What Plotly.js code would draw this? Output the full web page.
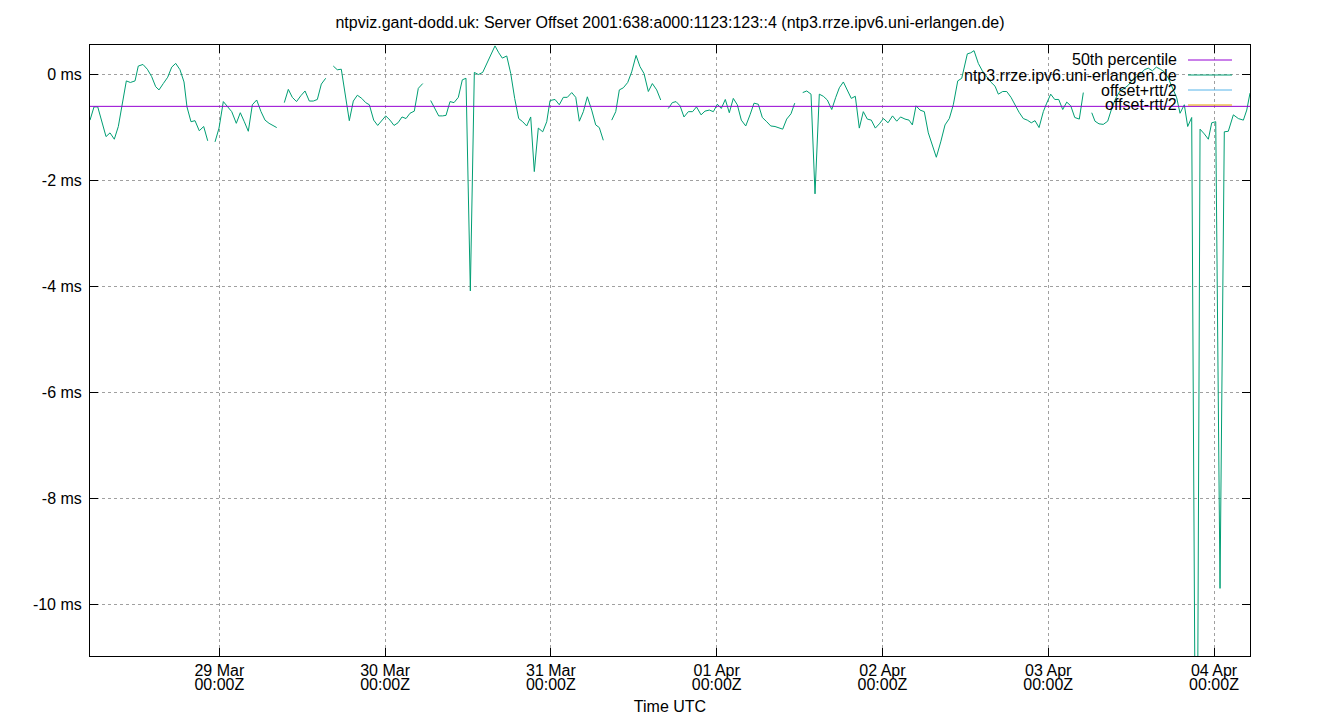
<!DOCTYPE html>
<html>
<head>
<meta charset="utf-8">
<script src="https://cdn.plot.ly/plotly-3.0.1.min.js"></script>
<style>
  html, body { margin: 0; padding: 0; background: #fff; }
  #chart { width: 1340px; height: 720px; }
</style>
</head>
<body>
<div id="chart"></div>
<script>
// ---- data (hours relative to 29 Mar 00:00Z; null = gap in the series) ----
const baseDateUTC = Date.UTC(2025, 2, 29, 0, 0, 0);

const offsetHours = [
  -18.72,-18.14,-17.60,-17.02,-16.40,-15.82,-15.20,-14.62,-14.04,-13.46,-12.88,-12.20,-11.73,-11.05,-10.42,-9.79,-9.21,-8.73,-8.11,-7.47,-6.89,-6.31,-5.69,-5.11,-4.68,-4.10,-3.52,-2.90,-2.26,-1.68,
  null,
  -0.62,-0.04,0.58,1.22,1.80,2.46,3.04,3.62,4.20,4.78,5.41,6.04,6.62,7.20,7.82,8.31,
  null,
  9.41,9.99,10.57,11.18,11.80,12.41,13.03,13.61,14.19,14.77,15.40,
  null,
  16.50,17.08,17.66,18.24,18.82,19.40,19.98,20.62,21.19,21.72,22.35,22.93,23.51,24.09,24.71,25.29,25.87,26.45,27.03,27.61,28.23,28.81,29.45,
  null,
  30.60,31.18,31.76,32.31,32.82,33.40,33.98,34.60,35.18,35.71,36.34,36.92,37.50,38.13,38.71,39.33,39.91,40.46,40.97,41.61,42.19,42.76,43.34,43.92,44.50,45.08,45.60,46.18,46.82,47.40,47.88,48.60,49.22,49.80,50.38,51.02,51.60,52.12,52.70,53.28,53.91,54.49,55.01,55.59,
  null,
  56.81,57.39,57.91,58.49,59.12,59.70,60.33,60.90,61.48,62.11,62.69,63.32,63.90,
  null,
  65.00,65.58,66.12,66.70,67.27,67.90,68.51,69.08,69.74,70.31,70.94,71.52,72.10,72.67,73.25,73.83,74.41,74.99,75.57,76.21,76.83,77.41,78.03,78.61,79.25,79.83,80.45,81.03,81.56,82.14,82.76,83.30,
  null,
  84.46,85.04,85.66,86.24,86.86,87.44,88.02,88.66,89.24,89.76,90.34,90.92,91.49,92.07,92.65,93.23,93.81,94.39,94.97,95.55,96.15,96.81,97.46,98.07,98.62,99.27,99.85,100.33,100.86,101.44,102.06,102.64,103.22,103.80,104.44,105.06,105.68,106.26,106.90,107.48,108.29,108.78,109.26,109.88,110.46,111.10,111.68,112.30,112.78,113.41,113.99,114.61,115.19,115.77,116.39,116.97,117.55,118.09,118.67,119.29,119.78,120.36,120.94,121.52,122.10,122.68,123.26,123.84,124.50,125.08,
  null,
  126.30,126.77,127.35,127.97,128.61,129.19,129.77,130.39,131.02,131.60,132.18,132.76,133.33,133.91,134.49,135.07,135.65,136.23,136.81,137.39,137.97,138.60,139.08,139.70,140.19,140.77,141.47,141.98,142.60,143.18,143.67,144.25,144.87,145.49,146.07,146.80,147.52,148.25,148.74,149.21
];

const offsetMs = [
  -0.87,-0.62,-0.62,-0.87,-1.18,-1.11,-1.23,-0.99,-0.55,-0.13,-0.16,-0.13,0.15,0.18,0.09,-0.05,-0.24,-0.30,-0.18,-0.06,0.13,0.20,0.08,-0.15,-0.62,-0.90,-0.88,-1.07,-0.99,-1.26,
  null,
  -1.28,-1.02,-0.52,-0.62,-0.71,-0.93,-0.73,-0.90,-1.08,-0.58,-0.49,-0.71,-0.87,-0.93,-0.98,-1.01,
  null,
  -0.54,-0.29,-0.44,-0.52,-0.41,-0.32,-0.51,-0.51,-0.48,-0.19,-0.08,
  null,
  0.15,0.08,0.09,-0.40,-0.88,-0.51,-0.40,-0.46,-0.54,-0.58,-0.87,-0.97,-0.89,-0.79,-0.87,-0.97,-0.92,-0.81,-0.84,-0.74,-0.70,-0.27,-0.18,
  null,
  -0.50,-0.65,-0.79,-0.79,-0.78,-0.52,-0.54,-0.44,-0.11,-0.08,-4.09,0.03,-0.01,0.03,0.20,0.37,0.53,0.40,0.30,0.34,0.01,-0.46,-0.84,-0.90,-0.98,-0.81,-1.84,-1.02,-1.09,-0.90,-0.50,-0.48,-0.58,-0.44,-0.44,-0.35,-0.44,-0.89,-0.71,-0.43,-0.68,-0.96,-1.01,-1.25,
  null,
  -0.87,-0.71,-0.30,-0.26,-0.16,0.04,0.35,0.14,0.01,-0.33,-0.18,-0.30,-0.49,
  null,
  -0.65,-0.54,-0.52,-0.60,-0.81,-0.71,-0.71,-0.62,-0.77,-0.70,-0.68,-0.71,-0.57,-0.65,-0.48,-0.73,-0.46,-0.58,-0.87,-0.98,-0.77,-0.55,-0.57,-0.82,-0.90,-0.98,-0.99,-1.01,-1.04,-0.85,-0.75,-0.55,
  null,
  -0.35,-0.32,-0.38,-2.26,-0.38,-0.42,-0.49,-0.67,-0.44,-0.26,-0.15,-0.30,-0.46,-0.42,-1.02,-0.71,-0.85,-0.87,-1.02,-0.94,-0.84,-0.92,-0.79,-0.89,-0.81,-0.85,-0.87,-0.96,-0.60,-0.68,-0.71,-1.11,-1.32,-1.57,-1.28,-0.96,-0.84,-0.58,-0.13,-0.08,0.38,0.40,0.44,0.20,0.06,-0.05,-0.15,-0.23,-0.38,-0.33,-0.33,-0.44,-0.58,-0.72,-0.84,-0.87,-0.92,-0.88,-1.01,-0.71,-0.55,-0.38,-0.48,-0.48,-0.67,-0.53,-0.60,-0.82,-0.85,-0.35,
  null,
  -0.73,-0.89,-0.94,-0.95,-0.89,-0.65,-0.46,-0.32,-0.27,-0.21,-0.11,-0.06,0.00,0.08,0.11,0.06,0.13,0.09,0.04,-0.08,-0.25,-0.45,-0.74,-0.58,-0.99,-0.82,-17.0,-1.04,-1.13,-1.23,-0.92,-0.90,-9.70,-1.09,-1.08,-0.77,-0.84,-0.87,-0.68,-0.36
];

const medianMs = -0.61;          // 50th percentile
const offsetPlusRtt = [];         // offset+rtt/2 (outside the visible range)
const offsetMinusRtt = [];        // offset-rtt/2 (outside the visible range)

const yTickVals = [0, -2, -4, -6, -8, -10];
const yTickText = ['0 ms', '-2 ms', '-4 ms', '-6 ms', '-8 ms', '-10 ms'];

const seriesNames = ['50th percentile', 'ntp3.rrze.ipv6.uni-erlangen.de', 'offset+rtt/2', 'offset-rtt/2'];
const seriesColors = ['#9400d3', '#009e73', '#56b4e9', '#e69f00'];

const titleText = 'ntpviz.gant-dodd.uk: Server Offset 2001:638:a000:1123:123::4 (ntp3.rrze.ipv6.uni-erlangen.de)';

// ---- build ----
const H = 3600 * 1000;
const toTime = h => (h === null ? null : baseDateUTC + h * H);
const xRange = [toTime(-18.72), toTime(149.21)];
const yRange = [-10.975, 0.547];

const FONT = 'Liberation Sans, Arial, Helvetica, sans-serif';

const traces = [
  {
    name: seriesNames[1], type: 'scatter', mode: 'lines',
    x: offsetHours.map(toTime), y: offsetMs,
    connectgaps: false,
    line: { color: seriesColors[1], width: 1 },
    showlegend: false, hoverinfo: 'skip'
  },
  {
    name: seriesNames[2], type: 'scatter', mode: 'lines',
    x: offsetPlusRtt.map(d => toTime(d[0])), y: offsetPlusRtt.map(d => d[1]),
    line: { color: seriesColors[2], width: 1 }, showlegend: false, xaxis: 'x2'
  },
  {
    name: seriesNames[3], type: 'scatter', mode: 'lines',
    x: offsetMinusRtt.map(d => toTime(d[0])), y: offsetMinusRtt.map(d => d[1]),
    line: { color: seriesColors[3], width: 1 }, showlegend: false, xaxis: 'x2'
  },
  {
    name: seriesNames[0], type: 'scatter', mode: 'lines',
    x: xRange, y: [medianMs, medianMs],
    line: { color: seriesColors[0], width: 1 },
    showlegend: false, hoverinfo: 'skip'
  }
];

// custom gnuplot-style key (text right-aligned, sample line on the right)
const keyTextX = (1179 - 90) / 1160;
const keySample = [(1188 - 90) / 1160, (1232 - 90) / 1160];
const keyRowsPx = [60, 75, 90, 105];
const pyPaper = px => (656 - px) / 611;

const annotations = seriesNames.map((n, i) => ({
  xref: 'paper', yref: 'paper', x: keyTextX, y: pyPaper(keyRowsPx[i]),
  xanchor: 'right', yanchor: 'middle', text: n, showarrow: false,
  font: { family: FONT, size: 16, color: '#000' }
}));

const shapes = [
  { type: 'rect', layer: 'between', xref: 'paper', yref: 'paper',
    x0: (908 - 90) / 1160, x1: 1, y0: pyPaper(113), y1: 1,
    fillcolor: '#ffffff', line: { width: 0 } }
].concat(seriesNames.map((n, i) => ({
  type: 'line', xref: 'paper', yref: 'paper',
  x0: keySample[0], x1: keySample[1], y0: pyPaper(keyRowsPx[i]), y1: pyPaper(keyRowsPx[i]),
  line: { color: seriesColors[i], width: 1 }
})));

const commonX = {
  type: 'date', range: xRange,
  tick0: baseDateUTC, dtick: 86400000
};

const layout = {
  width: 1340, height: 720,
  margin: { l: 90, r: 90, t: 45, b: 64, pad: 0 },
  paper_bgcolor: '#fff', plot_bgcolor: '#fff',
  font: { family: FONT, size: 16, color: '#000' },
  showlegend: false,
  title: {
    text: titleText, font: { family: FONT, size: 16, color: '#000' },
    x: 0.5, xanchor: 'center', xref: 'paper',
    y: 1 - 22 / 720, yanchor: 'middle', yref: 'container'
  },
  xaxis: Object.assign({}, commonX, {
    tickformat: '%d %b',
    ticks: 'inside', ticklen: 8, tickwidth: 1, tickcolor: '#000',
    showline: true, linecolor: '#000', linewidth: 1, mirror: 'ticks',
    showgrid: true, gridcolor: '#a0a0a0', griddash: 'dot', gridwidth: 1,
    zeroline: false,
    ticklabelstandoff: 0,
    tickfont: { family: FONT, size: 16, color: '#000' },
    title: { text: 'Time UTC', font: { family: FONT, size: 16, color: '#000' }, standoff: 22 }
  }),
  xaxis2: Object.assign({}, commonX, {
    overlaying: 'x', anchor: 'y', side: 'bottom',
    tickformat: '%H:%MZ',
    ticks: '', showline: false, showgrid: false, zeroline: false,
    ticklabelstandoff: 17,
    tickfont: { family: FONT, size: 16, color: '#000' }
  }),
  yaxis: {
    range: yRange, tickvals: yTickVals, ticktext: yTickText,
    ticks: 'inside', ticklen: 8, tickwidth: 1, tickcolor: '#000',
    showline: true, linecolor: '#000', linewidth: 1, mirror: 'ticks',
    showgrid: true, gridcolor: '#a0a0a0', griddash: 'dot', gridwidth: 1,
    zeroline: false,
    ticklabelstandoff: 4,
    tickfont: { family: FONT, size: 16, color: '#000' }
  },
  annotations: annotations,
  shapes: shapes
};

Plotly.newPlot('chart', traces, layout, { staticPlot: true, displayModeBar: false });
</script>
</body>
</html>
